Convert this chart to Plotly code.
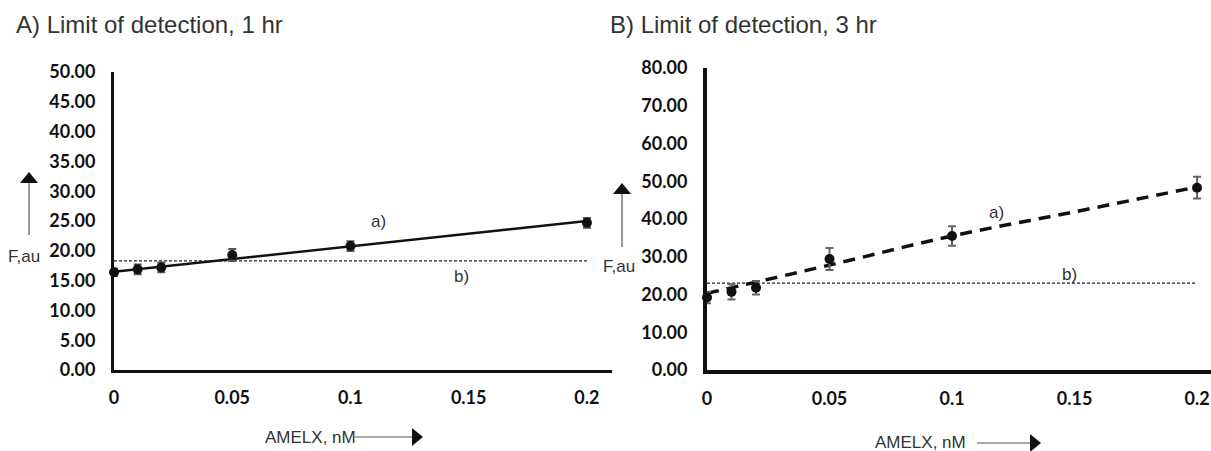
import plotly.graph_objects as go

W, H = 1211, 451

# ---- data ----
conc = [0, 0.01, 0.02, 0.05, 0.1, 0.2]
f_1hr = [16.4, 16.9, 17.2, 19.3, 20.8, 24.7]
err_1hr = [0.6, 0.8, 0.8, 1.0, 0.8, 0.8]
fit_x_1hr = [0, 0.2]
fit_y_1hr = [16.5, 25.0]
lod_1hr = 18.3

f_3hr = [19.2, 20.7, 21.8, 29.4, 35.5, 48.3]
err_3hr = [1.5, 2.0, 1.8, 2.9, 2.6, 2.9]
fit_x_3hr = [0, 0.05, 0.1, 0.15, 0.2]
fit_y_3hr = [20.3, 27.8, 35.5, 41.9, 48.5]
lod_3hr = 23.0

xtick_vals = [0, 0.05, 0.1, 0.15, 0.2]
xtick_text = ["0", "0.05", "0.1", "0.15", "0.2"]
ytick_1hr = [0, 5, 10, 15, 20, 25, 30, 35, 40, 45, 50]
ytick_3hr = [0, 10, 20, 30, 40, 50, 60, 70, 80]


def px(x):
    return x / W


def py(y):
    return 1 - y / H


fig = go.Figure()

# Panel A
fig.add_trace(go.Scatter(x=[fit_x_1hr[0], fit_x_1hr[-1]], y=[lod_1hr, lod_1hr], mode="lines",
                         line=dict(color="#222", width=1.2, dash="3px,2px"),
                         xaxis="x", yaxis="y", showlegend=False, hoverinfo="skip"))
fig.add_trace(go.Scatter(x=fit_x_1hr, y=fit_y_1hr, mode="lines",
                         line=dict(color="#111", width=2.5),
                         xaxis="x", yaxis="y", showlegend=False))
fig.add_trace(go.Scatter(x=conc, y=f_1hr, mode="markers",
                         marker=dict(color="#111", size=10),
                         error_y=dict(type="data", array=err_1hr, color="#555", thickness=2.2, width=4),
                         xaxis="x", yaxis="y", showlegend=False, cliponaxis=False))

# Panel B
fig.add_trace(go.Scatter(x=[fit_x_3hr[0], fit_x_3hr[-1]], y=[lod_3hr, lod_3hr], mode="lines",
                         line=dict(color="#222", width=1.2, dash="3px,2px"),
                         xaxis="x2", yaxis="y2", showlegend=False, hoverinfo="skip"))
fig.add_trace(go.Scatter(x=fit_x_3hr, y=fit_y_3hr, mode="lines", line_shape="spline",
                         line=dict(color="#111", width=3.5, dash="12px,8px"),
                         xaxis="x2", yaxis="y2", showlegend=False))
fig.add_trace(go.Scatter(x=conc, y=f_3hr, mode="markers",
                         marker=dict(color="#111", size=10),
                         error_y=dict(type="data", array=err_3hr, color="#666", thickness=2, width=4),
                         xaxis="x2", yaxis="y2", showlegend=False, cliponaxis=False))

tickfont = dict(family="Lato", size=18, color="#111", weight="bold")
axcommon = dict(showgrid=False, zeroline=False, showline=True, linecolor="#111",
                ticks="", tickfont=tickfont, fixedrange=True, automargin=False)

fig.update_layout(
    width=W, height=H,
    margin=dict(l=0, r=0, t=0, b=0, autoexpand=False),
    paper_bgcolor="white", plot_bgcolor="white",
    xaxis=dict(domain=[px(114), px(612)], range=[0, 0.2106], anchor="y",
               tickvals=xtick_vals, ticktext=xtick_text, linewidth=3,
               ticklabelstandoff=9, **axcommon),
    yaxis=dict(domain=[py(370), py(72)], range=[0, 50], anchor="x",
               tickvals=ytick_1hr, tickformat=".2f", linewidth=3,
               ticklabelstandoff=12, **axcommon),
    xaxis2=dict(domain=[px(707), 1.0], range=[0, 0.2057], anchor="y2",
                tickvals=xtick_vals, ticktext=xtick_text, linewidth=4,
                ticklabelstandoff=9, **axcommon),
    yaxis2=dict(domain=[py(370), py(68)], range=[0, 80], anchor="x2",
                tickvals=ytick_3hr, tickformat=".2f", linewidth=4,
                ticklabelstandoff=12, **axcommon),
)

txt = dict(family="Liberation Sans, Arial", color="#333")
ann = []
ann.append(dict(text="A) Limit of detection, 1 hr", x=px(14), y=py(25), xref="paper", yref="paper",
                xanchor="left", yanchor="middle", showarrow=False, font=dict(size=24, **txt)))
ann.append(dict(text="B) Limit of detection, 3 hr", x=px(608), y=py(25), xref="paper", yref="paper",
                xanchor="left", yanchor="middle", showarrow=False, font=dict(size=24, **txt)))
ann.append(dict(text="F,au", x=px(24), y=py(256), xref="paper", yref="paper",
                xanchor="center", yanchor="middle", showarrow=False, font=dict(size=17, **txt)))
ann.append(dict(text="F,au", x=px(619), y=py(266), xref="paper", yref="paper",
                xanchor="center", yanchor="middle", showarrow=False, font=dict(size=17, **txt)))
ann.append(dict(text="AMELX, nM", x=px(263), y=py(437), xref="paper", yref="paper",
                xanchor="left", yanchor="middle", showarrow=False, font=dict(size=17, **txt)))
ann.append(dict(text="AMELX, nM", x=px(873), y=py(442), xref="paper", yref="paper",
                xanchor="left", yanchor="middle", showarrow=False, font=dict(size=17, **txt)))
ann.append(dict(text="a)", x=px(378), y=py(221), xref="paper", yref="paper",
                xanchor="center", yanchor="middle", showarrow=False, font=dict(size=17, **txt)))
ann.append(dict(text="b)", x=px(461), y=py(276), xref="paper", yref="paper",
                xanchor="center", yanchor="middle", showarrow=False, font=dict(size=17, **txt)))
ann.append(dict(text="a)", x=px(996), y=py(212), xref="paper", yref="paper",
                xanchor="center", yanchor="middle", showarrow=False, font=dict(size=17, **txt)))
ann.append(dict(text="b)", x=px(1069), y=py(274), xref="paper", yref="paper",
                xanchor="center", yanchor="middle", showarrow=False, font=dict(size=17, **txt)))
fig.update_layout(annotations=ann)

shapes = []


def vline_arrow(x, y_top, y_bot):
    shapes.append(dict(type="line", xref="paper", yref="paper", x0=px(x), x1=px(x),
                       y0=py(y_bot), y1=py(y_top + 10), line=dict(color="#555", width=1.2)))
    path = "M {} {} L {} {} L {} {} Z".format(px(x), py(y_top), px(x - 9), py(y_top + 11),
                                              px(x + 9), py(y_top + 11))
    shapes.append(dict(type="path", xref="paper", yref="paper", path=path,
                       fillcolor="#111", line=dict(color="#111", width=0)))


def hline_arrow(x0, x_tip, y):
    shapes.append(dict(type="line", xref="paper", yref="paper", x0=px(x0), x1=px(x_tip - 10),
                       y0=py(y), y1=py(y), line=dict(color="#555", width=1.2)))
    path = "M {} {} L {} {} L {} {} Z".format(px(x_tip), py(y), px(x_tip - 11), py(y - 9),
                                              px(x_tip - 11), py(y + 9))
    shapes.append(dict(type="path", xref="paper", yref="paper", path=path,
                       fillcolor="#111", line=dict(color="#111", width=0)))


vline_arrow(29, 172, 235)
vline_arrow(622, 183, 247)
hline_arrow(355, 423, 437)
hline_arrow(977, 1041, 443)
fig.update_layout(shapes=shapes)

fig.write_html("out.html", config={"displayModeBar": False},
               post_script="document.body.style.margin='0px';document.body.style.overflow='hidden';")
